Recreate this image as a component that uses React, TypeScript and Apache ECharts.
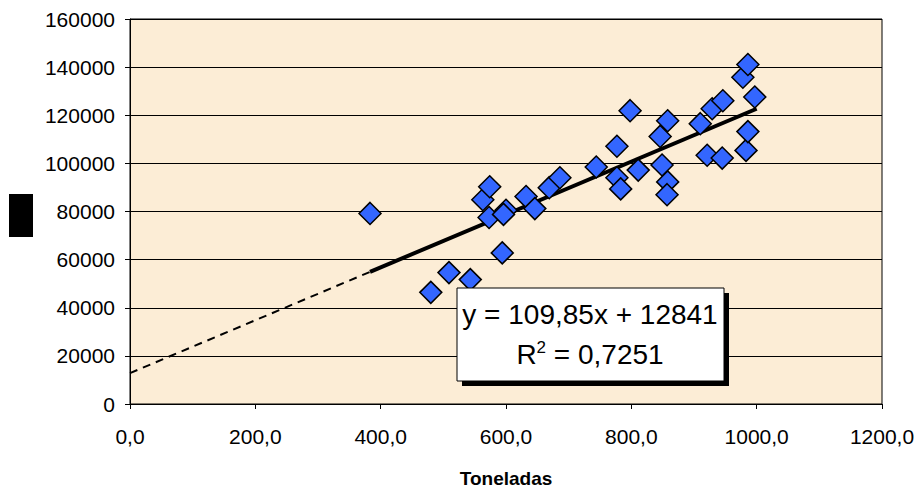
import React, { useEffect, useRef } from "react";
import * as echarts from "echarts";

const toneladas: number[] = [383, 480, 509, 543, 594, 563, 574, 573, 600, 596, 632, 646, 669, 686, 744, 777, 777, 783, 798, 811, 846, 849, 858, 858, 857, 910, 921, 929, 945, 946, 978, 983, 986, 986, 997];
const valores: number[] = [79200, 46400, 54600, 51700, 62800, 84900, 90300, 77500, 80500, 78800, 86200, 81200, 89900, 94000, 98500, 107100, 94000, 89400, 121900, 97200, 111200, 99300, 117700, 92300, 87000, 116500, 103400, 122700, 102200, 126000, 135800, 105400, 113200, 141100, 127600];
const slope = 109.85;
const intercept = 12841;
const r2Text = "0,7251";
const eqText = "y = 109,85x + 12841";
const xTitle = "Toneladas";

export default function App() {
  const ref = useRef<HTMLDivElement>(null);
  useEffect(() => {
    if (!ref.current) return;
    const chart = echarts.init(ref.current, undefined, { renderer: "svg" });
    const pts = toneladas.map((x, i) => [x, valores[i]]);
    const xMin = Math.min(...toneladas);
    const xMax = 1000;
    const f = (x: number) => slope * x + intercept;
    const font = "Liberation Sans, Arial";
    chart.setOption({
      animation: false,
      backgroundColor: "#ffffff",
      grid: { left: 130, right: 38, top: 19, bottom: 84, show: true, backgroundColor: "#FCEDD6", borderColor: "#000", borderWidth: 1 },
      xAxis: {
        type: "value", min: 0, max: 1200, interval: 200,
        axisLine: { lineStyle: { color: "#000", width: 1 } },
        axisTick: { show: true, length: 5, lineStyle: { color: "#000" } },
        splitLine: { show: false },
        axisLabel: { color: "#000", fontFamily: font, fontSize: 21, margin: 22, formatter: (v: number) => v.toFixed(1).replace(".", ",") },
        name: xTitle, nameLocation: "middle", nameGap: 65,
        nameTextStyle: { color: "#000", fontFamily: font, fontSize: 19, fontWeight: "bold" },
      },
      yAxis: {
        type: "value", min: 0, max: 160000, interval: 20000,
        axisLine: { show: true, lineStyle: { color: "#000", width: 1 } },
        axisTick: { show: true, length: 5, lineStyle: { color: "#000" } },
        splitLine: { show: true, lineStyle: { color: "#000", width: 1 } },
        axisLabel: { color: "#000", fontFamily: font, fontSize: 21, margin: 15, formatter: (v: number) => String(v) },
      },
      series: [
        {
          type: "line", data: [[0, f(0)], [xMin, f(xMin)]], symbol: "none",
          lineStyle: { color: "#000", width: 2, type: [8, 6] }, z: 2,
        },
        {
          type: "line", data: [[xMin, f(xMin)], [xMax, f(xMax)]], symbol: "none",
          lineStyle: { color: "#000", width: 4 }, z: 3,
        },
        {
          type: "scatter", data: pts, symbol: "diamond", symbolSize: 22,
          itemStyle: { color: "#3366FF", borderColor: "#000", borderWidth: 1.5, opacity: 1 }, z: 4,
        },
      ],
      graphic: [
        { type: "rect", left: 9, top: 194, shape: { width: 24, height: 43 }, style: { fill: "#000" } },
        { type: "rect", x: 462, y: 293, shape: { width: 267, height: 93 }, style: { fill: "#000" }, z: 10 },
        { type: "rect", x: 457, y: 288, shape: { width: 267, height: 93 }, style: { fill: "#fff", stroke: "#000", lineWidth: 1 }, z: 11 },
        { type: "text", x: 590, y: 314, style: { text: eqText, fill: "#000", font: "28px 'Liberation Sans', Arial", textAlign: "center", textVerticalAlign: "middle" }, z: 12 },
        {
          type: "text", x: 590, y: 354,
          style: {
            text: "{a|R}{s|2}{a| = " + r2Text + "}",
            textAlign: "center", textVerticalAlign: "middle",
            rich: {
              a: { fontSize: 28, fontFamily: font, color: "#000" },
              s: { fontSize: 17, fontFamily: font, color: "#000", verticalAlign: "top", padding: [0, 0, 14, 0] },
            },
          },
          z: 12,
        },
      ],
    });
    return () => chart.dispose();
  }, []);
  return <div ref={ref} style={{ width: 920, height: 493, position: "absolute", left: 0, top: 0 }} />;
}
